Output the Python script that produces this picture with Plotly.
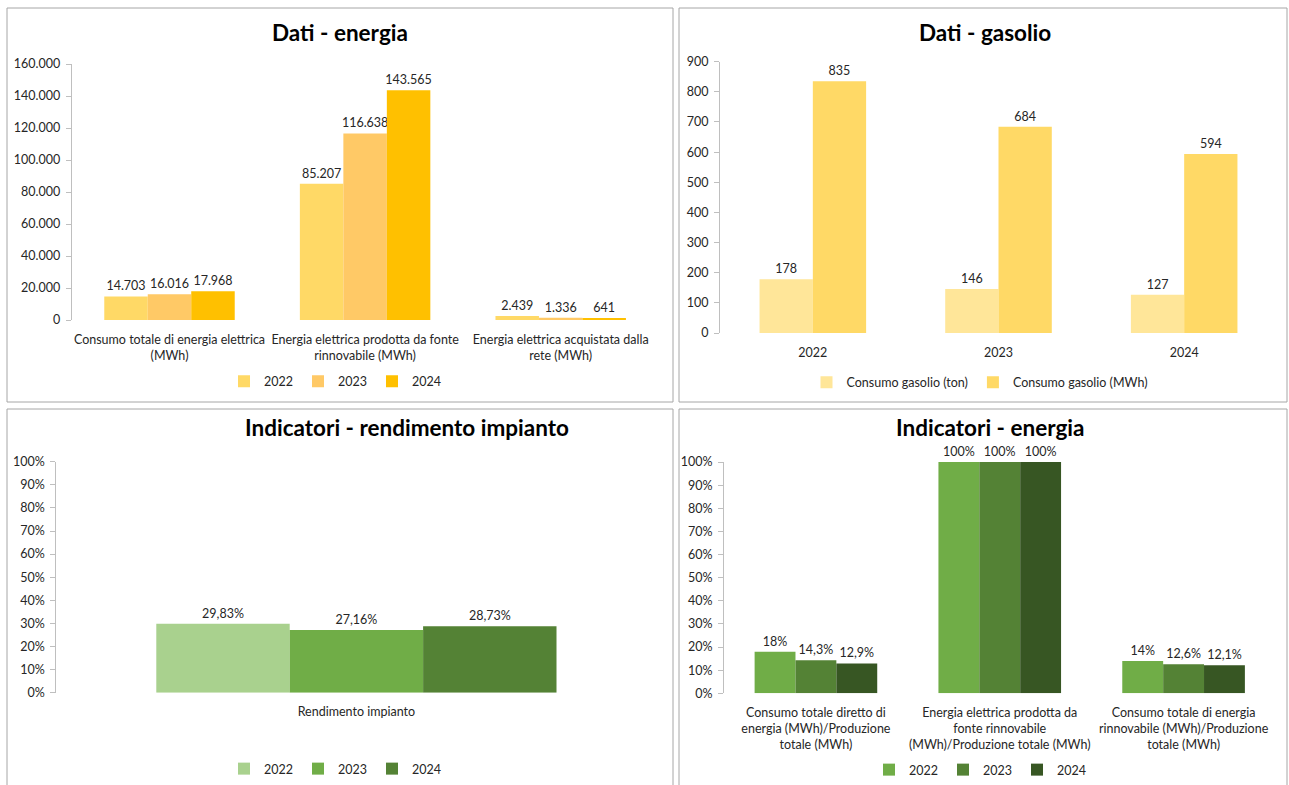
import plotly.graph_objects as go

W, H = 1289, 785

# ---------------- data ----------------
years = ["2022", "2023", "2024"]

energia_cats = [
    "Consumo totale di energia elettrica<br>(MWh)",
    "Energia elettrica prodotta da fonte<br>rinnovabile (MWh)",
    "Energia elettrica acquistata dalla<br>rete (MWh)",
]
energia_2022 = [14703, 85207, 2439]
energia_2023 = [16016, 116638, 1336]
energia_2024 = [17968, 143565, 641]

gasolio_years = ["2022", "2023", "2024"]
gasolio_ton = [178, 146, 127]
gasolio_mwh = [835, 684, 594]

rend_cats = ["Rendimento impianto"]
rend_2022 = [0.2983]
rend_2023 = [0.2716]
rend_2024 = [0.2873]

ind_cats = [
    "Consumo totale diretto di<br>energia (MWh)/Produzione<br>totale (MWh)",
    "Energia elettrica prodotta da<br>fonte rinnovabile<br>(MWh)/Produzione totale (MWh)",
    "Consumo totale di energia<br>rinnovabile (MWh)/Produzione<br>totale (MWh)",
]
ind_2022 = [0.18, 1.00, 0.14]
ind_2023 = [0.143, 1.00, 0.126]
ind_2024 = [0.129, 1.00, 0.121]

# ---------------- styling ----------------
FONT = "Lato, Carlito, Calibri, sans-serif"
TXT = "#262626"
AXC = "#BFBFBF"
gold = ["#FFD966", "#FFC966", "#FFC000"]
gas_cols = ["#FFE699", "#FFD966"]
green3 = ["#A9D18E", "#70AD47", "#548235"]
green4 = ["#70AD47", "#548235", "#375623"]
FS = 12.5


def px(x):
    return x / W


def py(y):
    return 1 - y / H


fig = go.Figure()


def add_bar(x, y, name, color, xa, ya, legend, tmpl, **kw):
    fig.add_trace(go.Bar(
        x=x, y=y, name=name, marker=dict(color=color, line=dict(width=0)),
        xaxis=xa, yaxis=ya, legend=legend,
        texttemplate=tmpl, textposition="outside", cliponaxis=False,
        constraintext="none", textfont=dict(size=FS, color=TXT, family=FONT),
        hoverinfo="skip", **kw))


# Panel 1
for vals, yr, c in zip([energia_2022, energia_2023, energia_2024], years, gold):
    add_bar(energia_cats, vals, yr, c, "x", "y", "legend", "%{y:,d}")
# Panel 2
bw = 0.287
add_bar(gasolio_years, gasolio_ton, "Consumo gasolio (ton)", gas_cols[0], "x2", "y2",
        "legend2", "%{y:d}", width=bw, offset=-bw)
add_bar(gasolio_years, gasolio_mwh, "Consumo gasolio (MWh)", gas_cols[1], "x2", "y2",
        "legend2", "%{y:d}", width=bw, offset=0)
# Panel 3
for vals, yr, c in zip([rend_2022, rend_2023, rend_2024], years, green3):
    add_bar(rend_cats, vals, yr, c, "x3", "y3", "legend3", "%{y:.2%}")
# Panel 4
for vals, yr, c in zip([ind_2022, ind_2023, ind_2024], years, green4):
    add_bar(ind_cats, vals, yr, c, "x4", "y4", "legend4", "%{y:.1~%}")

xcommon = dict(showline=False, ticks="", showgrid=False, zeroline=False,
               ticklabelstandoff=10,
               tickfont=dict(size=FS, color=TXT, family=FONT), fixedrange=True)
ycommon = dict(showline=True, linecolor=AXC, linewidth=1, ticks="outside",
               ticklen=5, tickcolor=AXC, showgrid=False, zeroline=False,
               ticklabelstandoff=3,
               tickfont=dict(size=12.5, color=TXT, family=FONT), fixedrange=True)

# domains from pixel positions
fig.update_layout(
    xaxis=dict(domain=[px(71.7), px(658.5)], anchor="y", **xcommon),
    yaxis=dict(domain=[py(320), py(64)], anchor="x", range=[0, 160000],
               dtick=20000, tickformat=",d", **ycommon),
    xaxis2=dict(domain=[px(720), px(1277)], anchor="y2", **xcommon),
    yaxis2=dict(domain=[py(333), py(61.7)], anchor="x2", range=[0, 900],
                dtick=100, tickformat="d", **ycommon),
    xaxis3=dict(domain=[px(56.4), px(656.4)], anchor="y3", **xcommon),
    yaxis3=dict(domain=[py(692.7), py(461.7)], anchor="x3", range=[0, 1],
                dtick=0.1, tickformat=".0%", **ycommon),
    xaxis4=dict(domain=[px(724), px(1275.5)], anchor="y4", **xcommon),
    yaxis4=dict(domain=[py(693.3), py(462)], anchor="x4", range=[0, 1],
                dtick=0.1, tickformat=".0%", **ycommon),
)

leg = dict(orientation="h", xanchor="center", yanchor="middle",
           font=dict(size=FS, color=TXT, family=FONT), itemwidth=30,
           bgcolor="rgba(0,0,0,0)", traceorder="normal")
fig.update_layout(
    legend=dict(x=px(335), y=py(381.7), **leg),
    legend2=dict(x=px(980), y=py(382.7), **leg),
    legend3=dict(x=px(335), y=py(769), **leg),
    legend4=dict(x=px(980), y=py(770), **leg),
)

titles = [
    ("Dati - energia", 340, 33),
    ("Dati - gasolio", 985, 33),
    ("Indicatori - rendimento impianto", 407, 427),
    ("Indicatori - energia", 990, 427),
]
for t, x, y in titles:
    fig.add_annotation(text=f"<b>{t}</b>", x=px(x), y=py(y), xref="paper", yref="paper",
                       xanchor="center", yanchor="middle", showarrow=False,
                       font=dict(size=22.5, color="#000000", family=FONT))

# panel borders
for x0, y0, x1, y1 in [(7, 8, 673, 402), (679, 8, 1287, 402),
                       (7, 409, 673, 790), (679, 409, 1287, 790)]:
    fig.add_shape(type="rect", xref="paper", yref="paper",
                  x0=px(x0), x1=px(x1), y0=py(y1), y1=py(y0),
                  line=dict(color="#A6A6A6", width=1), fillcolor="rgba(0,0,0,0)",
                  layer="below")

fig.update_layout(
    width=W, height=H, margin=dict(l=0, r=0, t=0, b=0, autoexpand=False),
    paper_bgcolor="white", plot_bgcolor="white",
    barmode="group", bargap=0.333, bargroupgap=0,
    separators=",.", font=dict(family=FONT, color=TXT),
    showlegend=True,
)

fig.write_html("out.html", config={"displayModeBar": False},
               post_script="document.body.style.margin='0';document.body.style.overflow='hidden';")
